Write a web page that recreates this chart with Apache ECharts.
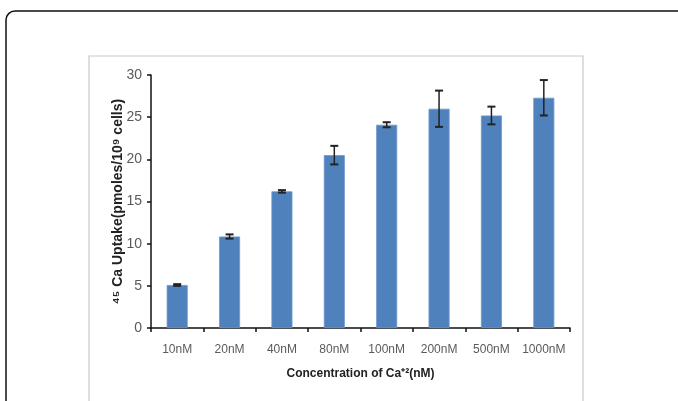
<!DOCTYPE html>
<html><head><meta charset="utf-8">
<script src="https://cdn.jsdelivr.net/npm/echarts@6/dist/echarts.min.js"></script>
<style>html,body{margin:0;padding:0;background:#fff}#c{width:678px;height:401px}</style>
</head><body><div id="c"></div>
<script>
const categories = ['10nM','20nM','40nM','80nM','100nM','200nM','500nM','1000nM'];
const uptake = [5.1, 10.85, 16.2, 20.5, 24.1, 26.0, 25.2, 27.3];
const errors = [0.1, 0.25, 0.15, 1.1, 0.3, 2.15, 1.05, 2.1];
const yTicks = [0, 5, 10, 15, 20, 25, 30];

const chart = echarts.init(document.getElementById('c'));
const font = '"Liberation Sans", sans-serif';
chart.setOption({
  animation: false,
  backgroundColor: '#fff',
  graphic: [
    {type:'rect', shape:{x:6,y:11,width:690,height:420,r:9}, style:{fill:'none',stroke:'#111',lineWidth:1.5}, z:-10},
    {type:'rect', shape:{x:89,y:56,width:494,height:380}, style:{fill:'none',stroke:'#c8c8c8',lineWidth:1.2}, z:-10}
  ],
  grid: {left:151, right:108, top:75, bottom:73},
  xAxis: {
    type:'category', data: categories,
    axisLine:{lineStyle:{color:'#111',width:1.5}},
    axisTick:{show:true, length:4, lineStyle:{color:'#111',width:1.5}},
    axisLabel:{color:'#5a5a5a', fontFamily:font, fontSize:12, margin:16, interval:0},
    name:'Concentration of Ca⁺²(nM)', nameLocation:'middle', nameGap:40, nameMoveOverlap:false,
    nameTextStyle:{color:'#222', fontFamily:font, fontSize:12, fontWeight:'bold'}
  },
  yAxis: {
    type:'value', min: yTicks[0], max: yTicks[yTicks.length-1], interval: 5,
    axisLine:{show:true, lineStyle:{color:'#111',width:1.5}},
    axisTick:{show:true, length:4, lineStyle:{color:'#111',width:1.5}},
    splitLine:{show:false},
    axisLabel:{color:'#5a5a5a', fontFamily:font, fontSize:14, margin:9},
    name:'⁴⁵ Ca Uptake(pmoles/10⁹ cells)', nameLocation:'middle', nameGap:26, nameMoveOverlap:false,
    nameTextStyle:{color:'#222', fontFamily:font, fontSize:14, fontWeight:'bold'}
  },
  series: [
    {type:'bar', data: uptake, barWidth:21,
     itemStyle:{color:'#4F81BD', borderColor:'#6d97cc', borderWidth:0.8}},
    {type:'custom', z:5,
     data: uptake.map((v,i)=>[i, v, errors[i]]),
     renderItem: function(params, api){
       const i = api.value(0), v = api.value(1), e = api.value(2);
       const top = api.coord([i, v+e]);
       const bot = api.coord([i, v-e]);
       const x = top[0], hw = 4;
       const st = {stroke:'#222', lineWidth:1.5};
       return {type:'group', children:[
         {type:'line', shape:{x1:x,y1:top[1],x2:x,y2:bot[1]}, style:st},
         {type:'line', shape:{x1:x-hw,y1:top[1],x2:x+hw,y2:top[1]}, style:{stroke:'#222',lineWidth:2}},
         {type:'line', shape:{x1:x-hw,y1:bot[1],x2:x+hw,y2:bot[1]}, style:{stroke:'#222',lineWidth:2}}
       ]};
     }}
  ]
});
</script></body></html>
